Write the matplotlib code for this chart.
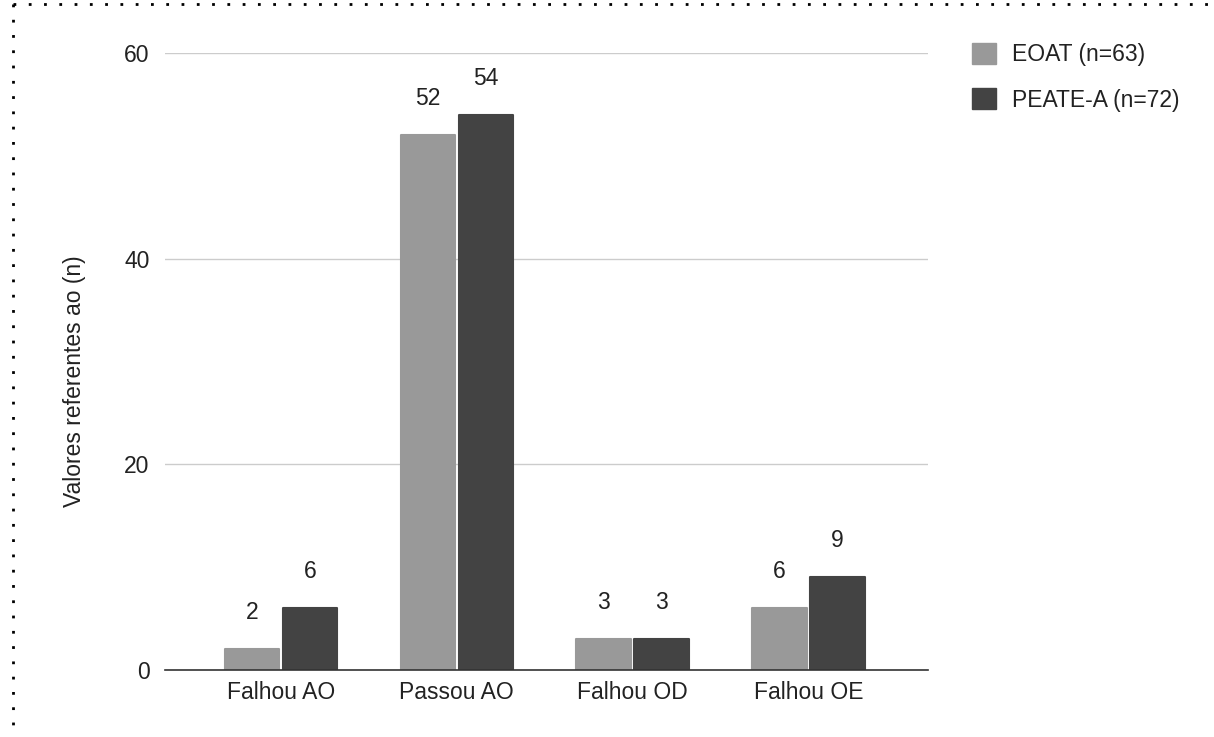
import matplotlib.pyplot as plt
import numpy as np
from matplotlib.lines import Line2D
from matplotlib.patches import Patch

categories = ["Falhou AO", "Passou AO", "Falhou OD", "Falhou OE"]
eoat = [2, 52, 3, 6]
peate = [6, 54, 3, 9]
series_labels = ["EOAT (n=63)", "PEATE-A (n=72)"]
yticks = [0, 20, 40, 60]

plt.rcParams["font.family"] = ["Liberation Sans", "DejaVu Sans"]

light = "#999999"
dark = "#434343"
fs = 16.5

fig = plt.figure(figsize=(12.14, 7.37), dpi=100)
ax = fig.add_axes([165 / 1214, 1 - 670 / 737, 763 / 1214, 617 / 737])

x = np.arange(len(categories))
w = 0.31
gap = 0.01
b1 = ax.bar(x - w / 2 - gap, eoat, w, color=light, edgecolor=light,
            linewidth=1.5, joinstyle="round", zorder=3)
b2 = ax.bar(x + w / 2 + gap, peate, w, color=dark, edgecolor=dark,
            linewidth=1.5, joinstyle="round", zorder=3)

for bars, vals in [(b1, eoat), (b2, peate)]:
    for bar, v in zip(bars, vals):
        ax.annotate(str(v), (bar.get_x() + bar.get_width() / 2, bar.get_height()),
                    xytext=(0, 18), textcoords="offset points", ha="center",
                    va="bottom", fontsize=fs, color="#222222")

ax.set_xlim(-0.66, 3.68)
ax.set_ylim(0, 60)
ax.set_yticks(yticks)
ax.set_xticks(x)
ax.set_xticklabels(categories)
ax.tick_params(axis="both", length=0, labelsize=fs, labelcolor="#222222")
ax.tick_params(axis="y", pad=11)
ax.tick_params(axis="x", pad=8)
ax.grid(axis="y", color="#cccccc", linewidth=1, zorder=0)
for s in ["top", "right", "left"]:
    ax.spines[s].set_visible(False)
ax.spines["bottom"].set_color("#333333")
ax.spines["bottom"].set_linewidth(1.2)
ax.spines["bottom"].set_zorder(4)

fig.text(75 / 1214, 1 - 381 / 737, "Valores referentes ao (n)", rotation=90,
         ha="center", va="center", fontsize=fs, color="#222222")

handles = [Patch(facecolor=light, edgecolor=light, joinstyle="round"),
           Patch(facecolor=dark, edgecolor=dark, joinstyle="round")]
fig.legend(handles, series_labels, loc="upper left",
           bbox_to_anchor=(972 / 1214, 1 - 43 / 737), frameon=False,
           fontsize=fs, handlelength=1.05, handleheight=1.05,
           handletextpad=0.7, labelspacing=0.95, borderpad=0,
           borderaxespad=0, labelcolor="#222222")

# dotted frame (top and left edges visible)
fig.add_artist(Line2D([13 / 1214, 1], [1 - 4 / 737, 1 - 4 / 737],
                      transform=fig.transFigure, color="black",
                      linestyle=(0, (1, 4.5)), linewidth=2))
fig.add_artist(Line2D([13 / 1214, 13 / 1214], [1 - 4 / 737, 0],
                      transform=fig.transFigure, color="black",
                      linestyle=(0, (1, 4.5)), linewidth=2))

fig.savefig("out.png", dpi=100)
